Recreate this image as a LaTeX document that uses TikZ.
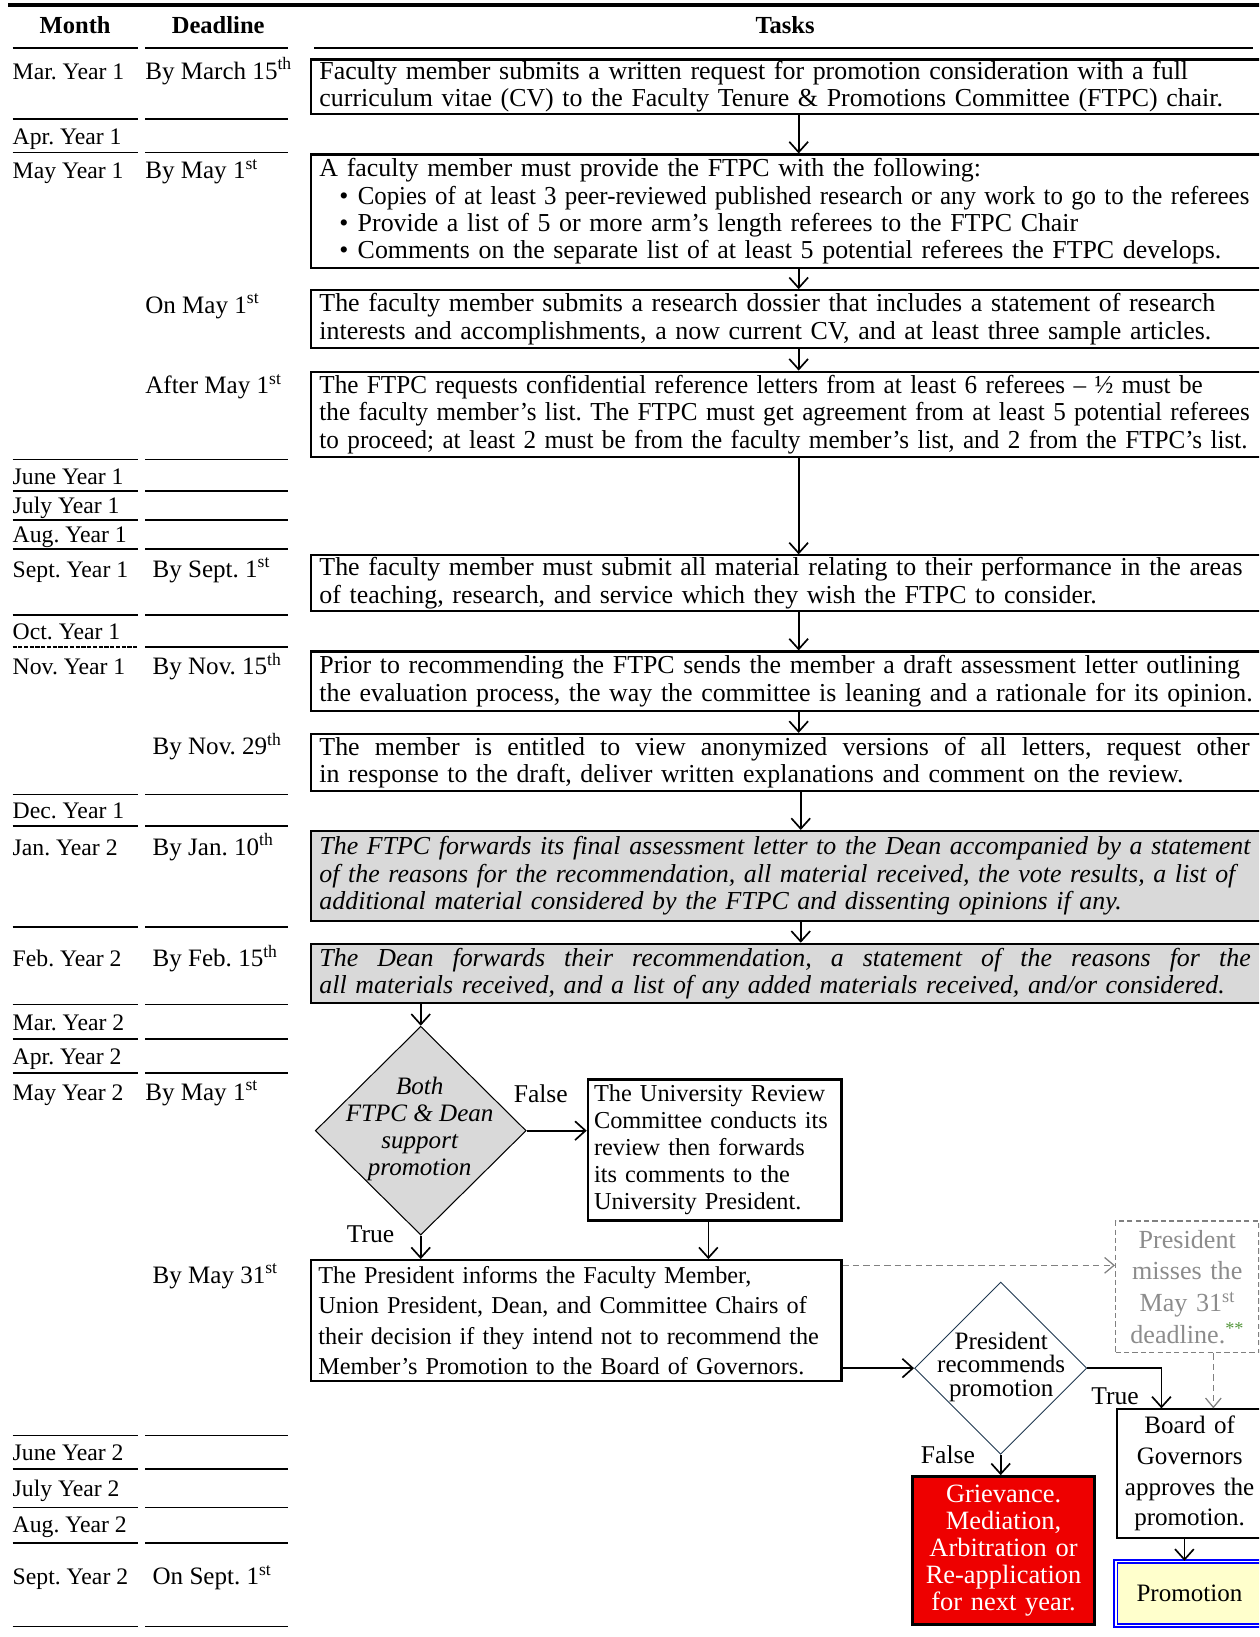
\documentclass[tikz,border=0pt]{standalone}
\usepackage{fontspec}
\usepackage{graphicx}
\setmainfont{Liberation Serif}
\usetikzlibrary{arrows.meta,shapes.geometric}
\frenchspacing
\definecolor{boxgray}{RGB}{217,217,217}
\definecolor{txtgray}{RGB}{140,140,140}
\definecolor{dashgray}{RGB}{128,128,128}
\definecolor{starg}{RGB}{84,150,60}
\definecolor{navy}{RGB}{31,56,80}
\definecolor{promored}{RGB}{238,0,0}
\definecolor{promoyel}{RGB}{255,255,204}
\definecolor{promoblue}{RGB}{0,0,255}
\newcommand\tskfont{\fontsize{24.8}{26.3}\selectfont}
\newcommand\monfont{\fontsize{22.7}{26}\selectfont}
\newcommand\ddlfont{\fontsize{24}{26}\selectfont}
\newcommand\hdrfont{\fontsize{23.5}{26}\selectfont\bfseries}
\newcommand\urcfont{\fontsize{23.3}{25.8}\selectfont}
\newcommand\presfont{\fontsize{23.2}{29}\selectfont}
\newcommand\diafont{\fontsize{24}{25.8}\selectfont\itshape}
\newcommand\diatwofont{\fontsize{24}{22.5}\selectfont}
\newcommand\boardfont{\fontsize{24}{29.5}\selectfont}
\newcommand\redfont{\fontsize{25.3}{25.8}\selectfont}
\newcommand\missfont{\fontsize{25}{30.5}\selectfont}
\newcommand\labfont{\fontsize{24.5}{26}\selectfont}
\newcommand\jline[2]{\hbox to #1{\spaceskip=0.25em plus 1fil\relax #2}}
\newcommand\fitline[2]{\resizebox{#1}{\height}{#2}}
\begin{document}
\begin{tikzpicture}[x=1pt,y=-1pt,
  sepline/.style={line width=1.6pt},
  mon/.style={anchor=base west,inner sep=0pt,font=\monfont},
  ddl/.style={anchor=base west,inner sep=0pt,font=\ddlfont},
  hdr/.style={inner sep=0pt,font=\hdrfont},
  task/.style={draw,line width=2pt,anchor=north west,minimum width=976,text width=960,align=left,inner xsep=0pt,inner ysep=0pt,font=\tskfont},
  graytask/.style={task,fill=boxgray,font=\tskfont\itshape},
  plainbox/.style={draw,line width=2pt,anchor=north west,inner sep=0pt},
  arr/.style={line width=1.6pt,-{Straight Barb[length=10pt,width=18pt,line width=1.6pt]}},
  garr/.style={dashgray,line width=1.4pt,dash pattern=on 6pt off 4pt,-{Straight Barb[length=9pt,width=15pt,line width=1.2pt,sep=0pt]}},
  lab/.style={inner sep=0pt,font=\labfont}]
\useasboundingbox (0,0) rectangle (1206,1568);
\clip (0,0) rectangle (1206,1568);
% header
\draw[line width=3.5pt] (8,5) -- (1212,5);
\node[hdr] (hm) at (72,24) {Month};
\node[hdr] (hd) at (209,24) {Deadline};
\node[hdr] (ht) at (752,24) {Tasks};
\draw[line width=1.3pt] (301,46) -- (1200,46);
% separator lines
\foreach \yy in {46,114,146,440,470,498,526,589,761,791,888,962,995,1028,1375,1407,1444,1478,1558}{
  \draw[sepline] (12,\yy) -- (132,\yy);
  \draw[sepline] (139,\yy) -- (276,\yy);}
\draw[sepline,dash pattern=on 4pt off 1.5pt] (12,620) -- (132,620);
\draw[sepline] (139,620) -- (276,620);
% months
\foreach \yy/\lbl [count=\i] in {68/Mar. Year 1,130/Apr. Year 1,163/May Year 1,456/June Year 1,484/July Year 1,512/Aug. Year 1,545/Sept. Year 1,605/Oct. Year 1,638/Nov. Year 1,776/Dec. Year 1,811/Jan. Year 2,918/Feb. Year 2,979/Mar. Year 2,1012/Apr. Year 2,1046/May Year 2,1391/June Year 2,1425/July Year 2,1460/Aug. Year 2,1510/Sept. Year 2}
  \node[mon] (m\i) at (12,\yy+8) {\lbl};
% deadlines
\foreach \xx/\yy/\lbl [count=\i] in {139/68/By March 15\textsuperscript{th},139/163/By May 1\textsuperscript{st},139/292/On May 1\textsuperscript{st},139/369/After May 1\textsuperscript{st},146/545/By Sept. 1\textsuperscript{st},146/638/By Nov. 15\textsuperscript{th},146/715/By Nov. 29\textsuperscript{th},146/811/By Jan. 10\textsuperscript{th},146/918/By Feb. 15\textsuperscript{th},139/1046/By May 1\textsuperscript{st},146/1221/By May 31\textsuperscript{st},146/1510/On Sept. 1\textsuperscript{st}}
  \node[ddl] (dl\i) at (\xx,\yy+8) {\lbl};
% tasks
\node[task,minimum height=52] (t1) at (297,56) {Faculty member submits a written request for promotion consideration with a full\\curriculum vitae (CV) to the Faculty Tenure \& Promotions Committee (FTPC) chair.};
\node[task,minimum height=109] (t2) at (297,147) {A faculty member must provide the FTPC with the following:\\
\hspace*{19pt}\textbullet\hspace*{9pt}\fitline{854pt}{Copies of at least 3 peer-reviewed published research or any work to go to the referees}\\
\hspace*{19pt}\textbullet\hspace*{9pt}Provide a list of 5 or more arm’s length referees to the FTPC Chair\\
\hspace*{19pt}\textbullet\hspace*{9pt}Comments on the separate list of at least 5 potential referees the FTPC develops.};
\node[task,minimum height=55] (t3) at (297,277) {The faculty member submits a research dossier that includes a statement of research\\interests and accomplishments, a now current CV, and at least three sample articles.};
\node[task,minimum height=82] (t4) at (297,355) {\fitline{846pt}{The FTPC requests confidential reference letters from at least 6 referees -- ½ must be}\\\fitline{891pt}{the faculty member’s list. The FTPC must get agreement from at least 5 potential referees}\\\fitline{889pt}{to proceed; at least 2 must be from the faculty member’s list, and 2 from the FTPC’s list.}};
\node[task,minimum height=53] (t5) at (297,531) {The faculty member must submit all material relating to their performance in the areas\\of teaching, research, and service which they wish the FTPC to consider.};
\node[task,minimum height=57] (t6) at (297,623) {Prior to recommending the FTPC sends the member a draft assessment letter outlining\\the evaluation process, the way the committee is leaning and a rationale for its opinion.};
\node[task,minimum height=55] (t7) at (297,702) {\jline{891pt}{The member is entitled to view anonymized versions of all letters, request other}\\in response to the draft, deliver written explanations and comment on the review.};
\node[graytask,minimum height=86] (t8) at (297,795) {The FTPC forwards its final assessment letter to the Dean accompanied by a statement\\of the reasons for the recommendation, all material received, the vote results, a list of\\additional material considered by the FTPC and dissenting opinions if any.};
\node[graytask,minimum height=57] (t9) at (297,903) {\jline{892pt}{The Dean forwards their recommendation, a statement of the reasons for the}\\all materials received, and a list of any added materials received, and/or considered.};
\coordinate (ax) at (765,0);
\coordinate (bx) at (767,0);
\draw[arr] (t1.south -| ax) -- (t2.north -| ax);
\draw[arr] (t2.south -| ax) -- (t3.north -| ax);
\draw[arr] (t3.south -| ax) -- (t4.north -| ax);
\draw[arr] (t4.south -| ax) -- (t5.north -| ax);
\draw[arr] (t5.south -| ax) -- (t6.north -| ax);
\draw[arr] (t6.south -| ax) -- (t7.north -| ax);
\draw[arr] (t7.south -| bx) -- (t8.north -| bx);
\draw[arr] (t8.south -| bx) -- (t9.north -| bx);
% decision 1
\node[diamond,draw,line width=1pt,fill=boxgray,minimum width=202,minimum height=200,inner sep=0pt] (d1) at (403,1083) {};
\node[align=center,font=\diafont,inner sep=0pt] (d1t) at (402,1081) {Both\\FTPC \& Dean\\support\\promotion};
\draw[arr] (t9.south -| d1.north) -- (d1.north);
\node[plainbox,minimum width=243,minimum height=135,text width=231,align=left,font=\urcfont] (urc) at (562,1033) {The University Review\\Committee conducts its\\review then forwards\\its comments to the\\University President.};
\draw[arr] (d1.east) -- (d1.east -| urc.west);
\node[lab] (lf1) at (518,1048) {False};
\node[lab] (lt1) at (355,1182) {True};
\node[plainbox,minimum width=508,minimum height=116,text width=494,align=left,font=\presfont] (pres) at (297,1206) {The President informs the Faculty Member,\\Union President, Dean, and Committee Chairs of\\their decision if they intend not to recommend the\\Member’s Promotion to the Board of Governors.};
\draw[arr] (d1.south) -- (d1.south |- pres.north);
\draw[arr] ([xshift=-6pt]urc.south) -- ([xshift=-6pt]urc.south |- pres.north);
% missed deadline
\node[draw=dashgray,line width=1.4pt,dash pattern=on 5pt off 3pt,anchor=north west,inner sep=0pt,minimum width=137,minimum height=126,text width=130,align=center,font=\missfont,text=txtgray] (miss) at (1068,1169) {President\\misses the\\May 31\textsuperscript{st}\\deadline.\textsuperscript{\textcolor{starg}{**}}};
\draw[garr] ([yshift=-6pt]pres.north east) -- ([yshift=-6pt]pres.north east -| miss.west);
% decision 2
\node[diamond,draw=navy,line width=0.9pt,minimum width=165,minimum height=165,inner sep=0pt] (d2) at (958.5,1310.5) {};
\node[align=center,font=\diatwofont,inner sep=0pt] (d2t) at (959,1309) {President\\recommends\\promotion};
\draw[arr] (pres.east |- d2.west) -- (d2.west);
\node[plainbox,minimum width=139,minimum height=123,text width=132,align=center,font=\boardfont] (board) at (1069,1349) {Board of\\Governors\\approves the\\promotion.};
\draw[arr] (d2.east) -| ([xshift=-27pt]board.north);
\node[lab] (lt2) at (1068,1337) {True};
\draw[garr] ([xshift=25pt]miss.south) -- ([xshift=25pt]miss.south |- board.north);
\node[draw=promoblue,double=white,double distance=1.3pt,line width=1.6pt,fill=promoyel,anchor=north west,inner sep=0pt,minimum width=141,minimum height=61,font=\boardfont] (promo) at (1068,1495) {Promotion};
\draw[arr] ([xshift=-5pt]board.south) -- ([xshift=-5pt]board.south |- promo.north);
\node[plainbox,line width=2.5pt,fill=promored,minimum width=174,minimum height=142,text width=170,align=center,font=\redfont,text=white] (red) at (873,1413) {Grievance.\\Mediation,\\Arbitration or\\Re-application\\for next year.};
\draw[arr] (d2.south) -- (d2.south |- red.north);
\node[lab] (lf2) at (908,1393) {False};
\end{tikzpicture}
\end{document}
